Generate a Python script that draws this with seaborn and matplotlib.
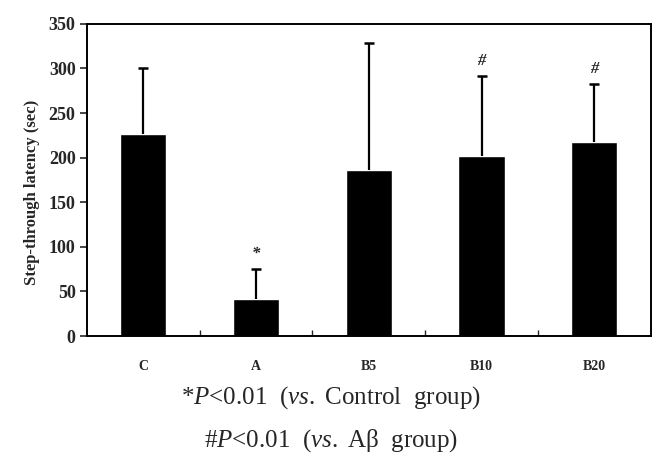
import matplotlib
matplotlib.use("Agg")
import matplotlib.pyplot as plt
import numpy as np
import pandas as pd
import seaborn as sns

groups = ["C", "A", "B5", "B10", "B20"]
latency = [227, 41, 186, 202, 217]
sd = [74, 34, 142, 89, 65]
marks = ["", "*", "", "#", "#"]

df = pd.DataFrame({"group": groups, "latency": latency})

sns.set_theme(style="ticks")
plt.rcParams["font.family"] = ["Liberation Serif", "DejaVu Serif"]
plt.rcParams["mathtext.fontset"] = "custom"
plt.rcParams["mathtext.rm"] = "Liberation Serif"
plt.rcParams["mathtext.it"] = "Liberation Serif:italic"

fig = plt.figure(figsize=(6.62, 4.76), dpi=100)
ax = fig.add_axes([0.131, 0.294, 0.852, 0.656])

sns.barplot(data=df, x="group", y="latency", color="black", saturation=1,
            width=0.41, ax=ax, errorbar=None)

# upward-only error bars with a cap on top
x = np.arange(len(groups))
tops = np.array(latency) + np.array(sd)
ax.vlines(x, latency, tops, color="black", linewidth=1.6)
ax.scatter(x, tops, marker="_", s=45, color="black", linewidths=1.8, zorder=3)

for xi, top, m in zip(x, tops, marks):
    if m:
        ax.text(xi, top + 8, m, ha="center", va="bottom", fontsize=12,
                fontweight="bold", fontstyle="italic")

ax.set_xlim(-0.5, len(groups) - 0.5)
ax.set_ylim(0, 350)
ax.set_yticks(range(0, 351, 50))
ax.set_xlabel("")
ax.set_ylabel("Step-through latency (sec)", fontsize=12, fontweight="bold")
ax.yaxis.set_label_coords(-0.083, 0.46)

for s in ax.spines.values():
    s.set_visible(True)
    s.set_linewidth(1.4)
    s.set_color("black")

ax.tick_params(axis="y", direction="out", length=5, width=1.2, labelsize=13, pad=3)
ax.tick_params(axis="x", which="major", length=0, labelsize=10, pad=17)
ax.set_xticks(np.arange(0.5, len(groups) - 0.5), minor=True)
ax.tick_params(axis="x", which="minor", direction="in", length=4, width=1)
for lab in ax.get_xticklabels() + ax.get_yticklabels():
    lab.set_fontweight("bold")

fig.text(0.5, 0.164, r"*$\mathit{P}$<0.01  ($\mathit{vs.}$ Control  group)",
         ha="center", va="center", fontsize=18)
fig.text(0.5, 0.074, r"#$\mathit{P}$<0.01  ($\mathit{vs.}$ Aβ  group)",
         ha="center", va="center", fontsize=18)

fig.savefig("out.png", dpi=100)
